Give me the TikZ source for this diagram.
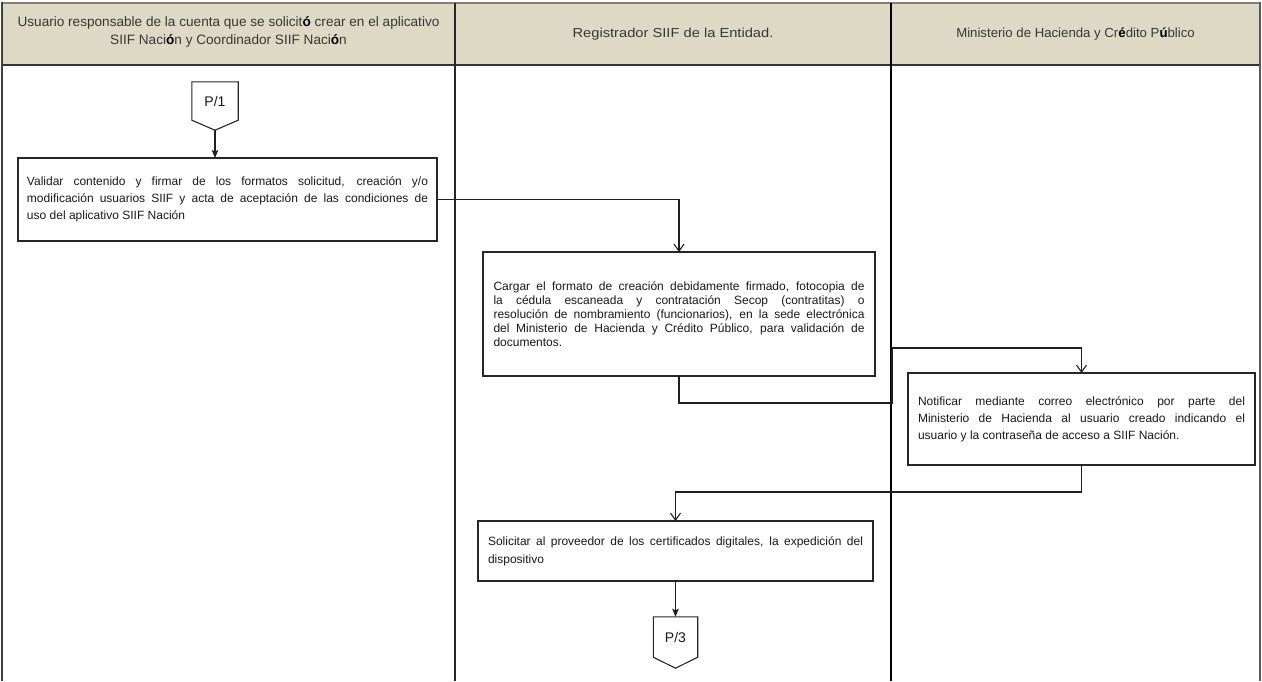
\documentclass[tikz,border=0pt]{standalone}
\usepackage{fontspec}
\setmainfont{Liberation Sans}
\usetikzlibrary{arrows.meta,calc}
\definecolor{hdrfill}{RGB}{221,217,197}
\definecolor{hdrtext}{RGB}{55,55,55}
\definecolor{topline}{RGB}{128,128,128}
\newcommand\boldacc[1]{{\color{black}\bfseries #1}}
\lineskiplimit=-100pt
\tolerance=10000
\hyphenpenalty=10000
\begin{document}
\begin{tikzpicture}[x=1pt,y=-1pt,
  boxst/.style={draw=black!85, line width=1.1pt, fill=white, inner xsep=0pt, inner ysep=0pt,
     outer sep=0pt, align=justify, text=black!90, font=\fontsize{12}{#1}\selectfont},
  hdrst/.style={inner sep=0pt, text=hdrtext, align=center},
  conn/.style={draw=black!88, line width=1.1pt},
  vtip/.style={-{Straight Barb[length=7pt,width=10pt]}},
  stip/.style={-{Stealth[length=8pt,width=6.5pt,inset=1.5pt]}},
  offpage/.style={inner sep=0pt, font=\fontsize{14}{16}\selectfont, text=black!90}
]
\useasboundingbox (0,0) rectangle (1262,681);
% header band
\fill[hdrfill] (2,3) rectangle (1260,65);
\draw[black!80, line width=1.5pt] (2,65) -- (1260,65);
\draw[topline, line width=2.5pt] (1,3) -- (1261,3);
% lane borders
\draw[black!75, line width=1.5pt] (2,2) -- (2,681);
\draw[black!85, line width=2pt] (455,3) -- (455,681);
\draw[black, line width=2.5pt] (891,3) -- (891,681);
\draw[black!65, line width=1.5pt] (1260,2) -- (1260,681);
% header texts
\node[hdrst, font=\fontsize{13.6}{18}\selectfont] (h1) at (228.5,32)
  {Usuario responsable de la cuenta que se solicit\boldacc{ó} crear en el aplicativo\\SIIF Naci\boldacc{ó}n y Coordinador SIIF Naci\boldacc{ó}n};
\node[hdrst, font=\fontsize{13}{17}\selectfont] (h2) at (673,34)
  {\scalebox{1.13}[1]{Registrador SIIF de la Entidad.}};
\node[hdrst, font=\fontsize{13.2}{17}\selectfont] (h3) at (1075.5,34)
  {Ministerio de Hacienda y Cr\boldacc{é}dito P\boldacc{ú}blico};
% off-page connector P/1
\node[offpage, minimum width=46pt, minimum height=38pt] (p1) at (215,101) {P/1};
\coordinate (p1tip) at ($(p1.south)+(0,10)$);
\draw[black!85, line width=1.1pt, line join=miter] (p1.north west) -- (p1.north east) -- (p1.south east) -- (p1tip) -- (p1.south west) -- cycle;
% boxes with texts
\node[boxst=17, text width=401pt, minimum width=419pt, minimum height=83pt] (b1) at (227.5,199.5)
  {Validar contenido y firmar de los formatos solicitud, creación y/o\linebreak
   modificación usuarios SIIF y acta de aceptación de las condiciones de\linebreak
   uso del aplicativo SIIF Nación};
\node[boxst=14, text width=371pt, minimum width=392pt, minimum height=124pt] (b2) at (679,314)
  {Cargar el formato de creación debidamente firmado, fotocopia de\linebreak
   la cédula escaneada y contratación Secop (contratitas) o\linebreak
   resolución de nombramiento (funcionarios), en la sede electrónica\linebreak
   del Ministerio de Hacienda y Crédito Público, para validación de\linebreak
   documentos.};
\node[boxst=17, text width=327pt, minimum width=347pt, minimum height=92pt] (b3) at (1081.5,419)
  {Notificar mediante correo electrónico por parte del\linebreak
   Ministerio de Hacienda al usuario creado indicando el\linebreak
   usuario y la contraseña de acceso a SIIF Nación.};
\node[boxst=18, text width=375pt, minimum width=395pt, minimum height=60pt] (b4) at (675.5,551)
  {Solicitar al proveedor de los certificados digitales, la expedición del\linebreak
   dispositivo};
% off-page connector P/3
\node[offpage, minimum width=44pt, minimum height=40pt] (p3) at (675.5,637) {P/3};
\coordinate (p3tip) at ($(p3.south)+(0,11)$);
\draw[black!85, line width=1.1pt, line join=miter] (p3.north west) -- (p3.north east) -- (p3.south east) -- (p3tip) -- (p3.south west) -- cycle;
% connectors
\draw[conn, stip] (p1tip) -- (b1.north -| p1tip);
\draw[conn, vtip] (b1.east) -| (b2.north);
\coordinate (c1) at (892,403);
\coordinate (c2) at (892,348);
\draw[conn, vtip] (b2.south) |- (c1) -- (c2) -| (b3.north);
\coordinate (c3) at (1000,492);
\draw[conn, vtip] (b3.south) -- (b3.south |- c3) -| (b4.north);
\draw[conn, stip] (b4.south) -- (p3.north);
\end{tikzpicture}
\end{document}
